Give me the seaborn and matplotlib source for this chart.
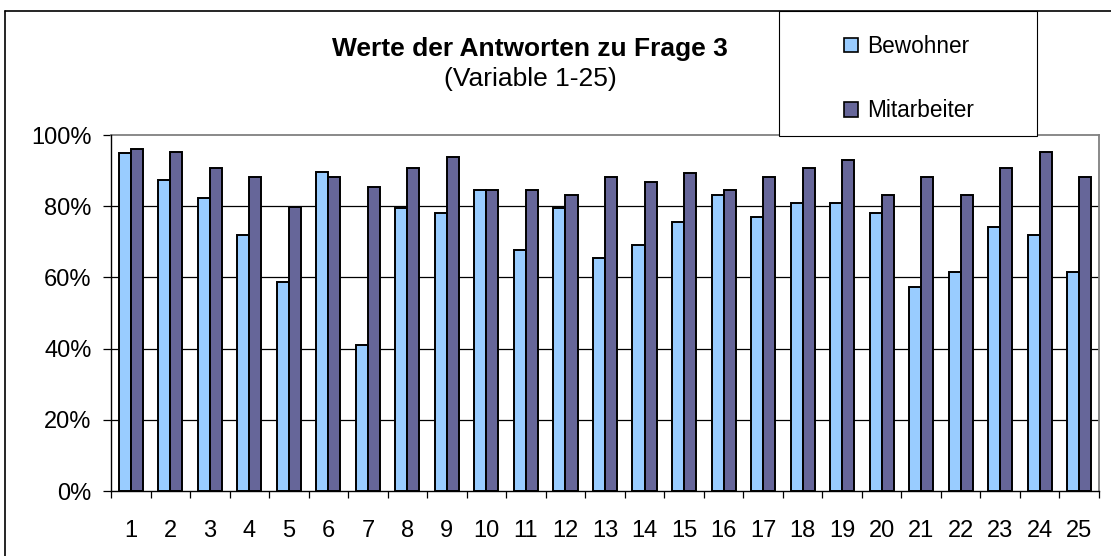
import numpy as np
import pandas as pd
import matplotlib
matplotlib.use("Agg")
import matplotlib.pyplot as plt
import seaborn as sns
from matplotlib.patches import Rectangle, Patch
from matplotlib.lines import Line2D
from matplotlib.ticker import FuncFormatter

categories = [str(i) for i in range(1, 26)]
bewohner = [94.9, 87.4, 82.2, 71.9, 58.8, 89.7, 41.0, 79.4, 78.0, 84.6,
            67.7, 79.4, 65.4, 69.1, 75.6, 83.1, 77.1, 80.8, 80.8, 78.0,
            57.4, 61.6, 74.2, 71.9, 61.6]
mitarbeiter = [96.2, 95.3, 90.6, 88.3, 79.9, 88.3, 85.5, 90.6, 93.9, 84.6,
               84.6, 83.1, 88.3, 86.9, 89.2, 84.6, 88.3, 90.6, 93.0, 83.1,
               88.3, 83.1, 90.6, 95.3, 88.3]
series_names = ["Bewohner", "Mitarbeiter"]
y_ticks = [0, 20, 40, 60, 80, 100]
title = "Werte der Antworten zu Frage 3"
subtitle = "(Variable 1-25)"

df = pd.DataFrame({
    "Variable": categories * 2,
    "Wert": bewohner + mitarbeiter,
    "Gruppe": [series_names[0]] * 25 + [series_names[1]] * 25,
})

sns.set_theme(style="white")
plt.rcParams["font.family"] = ["Liberation Sans", "DejaVu Sans"]
plt.rcParams["text.color"] = "black"
plt.rcParams["axes.labelcolor"] = "black"
plt.rcParams["xtick.color"] = "black"
plt.rcParams["ytick.color"] = "black"

W, H = 1111, 556
fig = plt.figure(figsize=(W / 100, H / 100), dpi=100)
ax = fig.add_axes([111 / W, 1 - 491 / H, (1099 - 111) / W, (491 - 135) / H])

colors = {"Bewohner": "#99CCFF", "Mitarbeiter": "#666699"}
sns.barplot(data=df, x="Variable", y="Wert", hue="Gruppe", palette=colors,
            order=categories, hue_order=series_names, width=0.61, gap=0,
            edgecolor="black", linewidth=1.4, saturation=1, ax=ax, legend=False,
            zorder=3)

ax.set_xlim(-0.5, 24.5)
ax.set_ylim(0, 100)
ax.set_yticks(y_ticks)
ax.yaxis.set_major_formatter(FuncFormatter(lambda v, p: f"{v:.0f}%"))
ax.hlines(y_ticks[1:-1], -0.5, 24.5, colors="black", linewidth=0.9, zorder=1)
ax.set_xlabel("")
ax.set_ylabel("")

ax.set_xticks(range(25))
ax.set_xticklabels(categories)
ax.set_xticks(np.arange(-0.5, 25, 1), minor=True)
ax.tick_params(axis="x", which="major", length=0, pad=21, labelsize=17, colors="black")
ax.tick_params(axis="x", which="minor", length=5, width=0.9, color="black", direction="out", bottom=True)
ax.tick_params(axis="y", which="major", length=6, width=0.9, color="black", direction="out",
               left=True, pad=8, labelsize=17, labelcolor="black")

for s in ["top", "right"]:
    ax.spines[s].set_color("#808080")
    ax.spines[s].set_linewidth(1.3)
for s in ["left", "bottom"]:
    ax.spines[s].set_color("black")
    ax.spines[s].set_linewidth(1.0)
    ax.spines[s].set_zorder(4)

# outer chart frame
fig.add_artist(Line2D([5 / W, 5 / W], [0, 1 - 11 / H], transform=fig.transFigure, color="black", lw=1.2))
fig.add_artist(Line2D([5 / W, 1], [1 - 11 / H, 1 - 11 / H], transform=fig.transFigure, color="black", lw=1.2))

# titles
fig.text(530 / W, 1 - 56 / H, title, ha="center", va="baseline", fontsize=19, fontweight="bold")
fig.text(530 / W, 1 - 86 / H, subtitle, ha="center", va="baseline", fontsize=19)

# legend box
fig.add_artist(Rectangle((779 / W, 1 - 136 / H), (1037 - 779) / W, (136 - 11) / H,
                         transform=fig.transFigure, facecolor="white", edgecolor="black",
                         lw=0.8, zorder=5))
handles = [Patch(facecolor=colors[n], edgecolor="black", lw=1.2) for n in series_names]
leg = fig.legend(handles, series_names, loc="upper left",
                 bbox_to_anchor=(844 / W, 1 - 35 / H), frameon=False,
                 fontsize=16.3, handlelength=0.6, handleheight=0.6, handletextpad=0.42,
                 labelspacing=1.83, borderpad=0, borderaxespad=0)
leg.set_zorder(6)

fig.savefig("out.png", dpi=100)
